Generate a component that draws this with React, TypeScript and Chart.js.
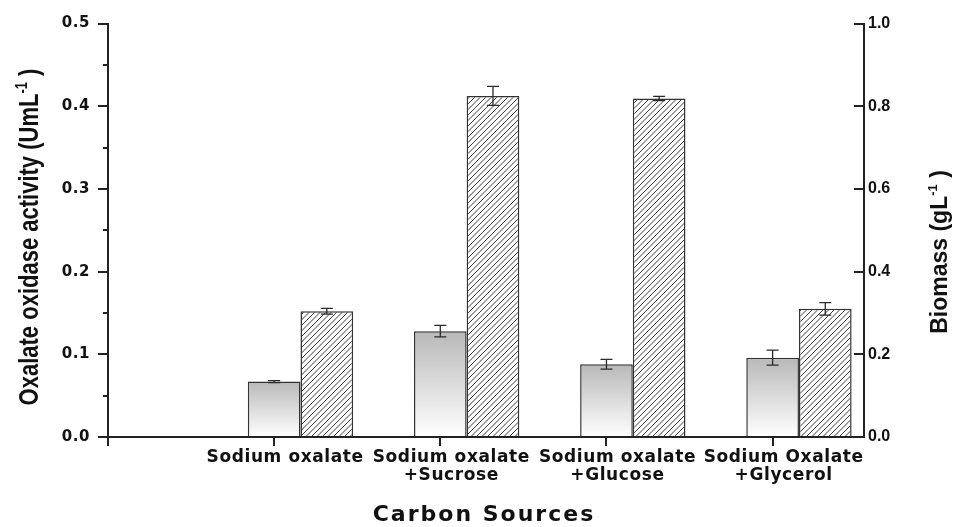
import React, { useEffect, useRef } from 'react';
import { Chart, registerables } from 'chart.js';

Chart.register(...registerables);

// ---- data ----
const categoryLabels: string[][] = [
  ['Sodium oxalate'],
  ['Sodium oxalate', '+Sucrose'],
  ['Sodium oxalate', '+Glucose'],
  ['Sodium Oxalate', '+Glycerol'],
];
const oxidaseActivity = [0.067, 0.128, 0.088, 0.096];
const oxidaseError = [0.0012, 0.007, 0.006, 0.009];
const biomass = [0.304, 0.825, 0.819, 0.31];
const biomassError = [0.007, 0.023, 0.005, 0.015];

const leftAxis = { min: 0, max: 0.5, step: 0.1 };
const rightAxis = { min: 0, max: 1.0, step: 0.2 };
const leftMinorTicks = [0.05, 0.15, 0.25, 0.35, 0.45];
const xAxisMax = 4.55;

const xTitle = 'Carbon Sources';
const leftTitle = [{ t: 'Oxalate oxidase activity (UmL' }, { t: '-1', sup: true }, { t: ' )' }];
const rightTitle = [{ t: 'Biomass (gL' }, { t: '-1', sup: true }, { t: ' )' }];

const INK = '#111111';

function makeHatch(): CanvasPattern | string {
  const c = document.createElement('canvas');
  const n = 11;
  c.width = n;
  c.height = n;
  const g = c.getContext('2d');
  if (!g) return '#ddd';
  g.fillStyle = '#ffffff';
  g.fillRect(0, 0, n, n);
  g.strokeStyle = '#3a3a3a';
  g.lineWidth = 1;
  g.beginPath();
  for (const k of [0, 5.5, 11, 16.5, 22]) {
    g.moveTo(-2, k + 2);
    g.lineTo(k + 2, -2);
  }
  g.stroke();
  return g.createPattern(c, 'repeat') || '#ddd';
}

function gradientFill(ctx: any) {
  const chart = ctx.chart;
  if (!chart.chartArea || ctx.type !== 'data' || !ctx.parsed) return '#d0d0d0';
  const ys = chart.scales.y;
  const top = ys.getPixelForValue(ctx.parsed.y);
  const bottom = ys.getPixelForValue(0);
  if (!isFinite(top) || !isFinite(bottom) || top === bottom) return '#d0d0d0';
  const g = chart.ctx.createLinearGradient(0, top, 0, bottom);
  g.addColorStop(0, '#b8b8b8');
  g.addColorStop(0.5, '#dcdcdc');
  g.addColorStop(1, '#ffffff');
  return g;
}

const spacingPlugin = {
  id: 'labelSpacing',
  beforeDraw(chart: any) {
    (chart.ctx as any).letterSpacing = '0.6px';
  },
  beforeDatasetsDraw(chart: any) {
    (chart.ctx as any).letterSpacing = '0px';
  },
};

const errorBarPlugin = {
  id: 'errorBars',
  afterDatasetsDraw(chart: any) {
    const ctx = chart.ctx;
    chart.data.datasets.forEach((ds: any, di: number) => {
      if (!ds.errors) return;
      const meta = chart.getDatasetMeta(di);
      const ys = chart.scales[ds.yAxisID];
      meta.data.forEach((bar: any, i: number) => {
        const v = ds.data[i].y;
        const e = ds.errors[i];
        const x = bar.x;
        const yt = ys.getPixelForValue(v + e);
        const yb = ys.getPixelForValue(v - e);
        ctx.save();
        ctx.strokeStyle = '#2a2a2a';
        ctx.lineWidth = 1.3;
        ctx.beginPath();
        ctx.moveTo(x, yt);
        ctx.lineTo(x, yb);
        ctx.moveTo(x - 6, yt);
        ctx.lineTo(x + 6, yt);
        ctx.moveTo(x - 6, yb);
        ctx.lineTo(x + 6, yb);
        ctx.stroke();
        ctx.restore();
      });
    });
  },
};

function drawRich(
  ctx: CanvasRenderingContext2D,
  parts: { t: string; sup?: boolean }[],
  cx: number,
  cy: number,
  size: number,
  family: string,
  rotate: boolean,
  scaleY: number
) {
  ctx.save();
  (ctx as any).letterSpacing = '0px';
  ctx.fillStyle = INK;
  ctx.textBaseline = 'alphabetic';
  ctx.textAlign = 'left';
  const supSize = Math.round(size * 0.58);
  const mainFont = `bold ${size}px ${family}`;
  const supFont = `bold ${supSize}px ${family}`;
  let total = 0;
  const widths = parts.map((p) => {
    ctx.font = p.sup ? supFont : mainFont;
    const w = ctx.measureText(p.t).width;
    total += w;
    return w;
  });
  ctx.translate(cx, cy);
  if (rotate) ctx.rotate(-Math.PI / 2);
  ctx.scale(1, scaleY);
  const base = size * 0.716 / 2;
  let x = -total / 2;
  parts.forEach((p, i) => {
    ctx.font = p.sup ? supFont : mainFont;
    ctx.fillText(p.t, x, p.sup ? base - size * 0.42 : base);
    x += widths[i];
  });
  ctx.restore();
}

const decorPlugin = {
  id: 'decor',
  afterDraw(chart: any) {
    const ctx: CanvasRenderingContext2D = chart.ctx;
    const ys = chart.scales.y;
    const left = chart.chartArea.left;
    ctx.save();
    ctx.strokeStyle = '#222';
    ctx.lineWidth = 2;
    ctx.beginPath();
    leftMinorTicks.forEach((v) => {
      const y = Math.round(ys.getPixelForValue(v));
      ctx.moveTo(left - 5, y);
      ctx.lineTo(left, y);
    });
    ctx.stroke();
    ctx.restore();

    drawRich(ctx, leftTitle, 28.5, 237, 22, '"Liberation Sans", Arial, sans-serif', true, 1.25);
    drawRich(ctx, rightTitle, 938, 252, 23, '"Liberation Sans", Arial, sans-serif', true, 1.05);

    ctx.save();
    (ctx as any).letterSpacing = '2px';
    ctx.font = 'bold 22px "DejaVu Sans", sans-serif';
    ctx.fillStyle = INK;
    ctx.textAlign = 'center';
    ctx.textBaseline = 'alphabetic';
    ctx.fillText(xTitle, 484, 521);
    ctx.restore();
  },
};

export default function App() {
  const ref = useRef<HTMLCanvasElement>(null);
  useEffect(() => {
    const canvas = ref.current;
    if (!canvas) return;
    const hatch = makeHatch();
    const chart = new Chart(canvas, {
      type: 'bar',
      data: {
        datasets: [
          {
            label: 'spacer',
            data: categoryLabels.map((_, i) => ({ x: i + 1, y: null })),
            yAxisID: 'y',
            backgroundColor: 'transparent',
            borderWidth: 0,
          },
          {
            label: 'Oxalate oxidase activity',
            data: oxidaseActivity.map((y, i) => ({ x: i + 1, y })),
            errors: oxidaseError,
            yAxisID: 'y',
            backgroundColor: gradientFill,
            borderColor: '#333',
            borderWidth: 1.5,
          },
          {
            label: 'Biomass',
            data: biomass.map((y, i) => ({ x: i + 1, y })),
            errors: biomassError,
            yAxisID: 'y2',
            backgroundColor: hatch,
            borderColor: '#333',
            borderWidth: 1.5,
          },
        ] as any,
      },
      options: {
        responsive: false,
        animation: false,
        layout: { padding: { top: 17, left: 0, right: 0, bottom: 0 } },
        datasets: { bar: { categoryPercentage: 0.951, barPercentage: 1, grouped: true } } as any,
        plugins: { legend: { display: false }, tooltip: { enabled: false }, title: { display: false } },
        scales: {
          x: {
            type: 'linear',
            min: 0,
            max: xAxisMax,
            offset: false,
            grid: { offset: false, drawOnChartArea: false, color: '#222', lineWidth: 2, tickLength: 9 },
            border: { color: '#222', width: 2, z: 1 },
            ticks: {
              stepSize: 1,
              includeBounds: false,
              autoSkip: false,
              maxRotation: 0,
              minRotation: 0,
              labelOffset: 11,
              padding: 2,
              color: INK,
              font: { family: '"DejaVu Sans", sans-serif', weight: 'bold', size: 17, lineHeight: 1.1 },
              callback: (v: any) => {
                const idx = Math.round(Number(v)) - 1;
                return idx >= 0 && idx < categoryLabels.length ? categoryLabels[idx] : '';
              },
            },
            afterFit: (s: any) => {
              s.height = 90;
            },
          } as any,
          y: {
            type: 'linear',
            position: 'left',
            min: leftAxis.min,
            max: leftAxis.max,
            grid: { drawOnChartArea: false, color: '#222', lineWidth: 2, tickLength: 10 },
            border: { color: '#222', width: 2 },
            ticks: {
              stepSize: leftAxis.step,
              padding: 8,
              color: INK,
              font: { family: '"DejaVu Sans", sans-serif', weight: 'bold', size: 15 },
              callback: (v: any) => Number(v).toFixed(1),
            },
            afterFit: (s: any) => {
              s.width = 108;
            },
          } as any,
          y2: {
            type: 'linear',
            position: 'right',
            min: rightAxis.min,
            max: rightAxis.max,
            grid: { drawOnChartArea: false, color: '#222', lineWidth: 2, tickLength: -10 },
            border: { color: '#222', width: 2 },
            ticks: {
              stepSize: rightAxis.step,
              padding: 14,
              z: 1,
              color: INK,
              font: { family: '"Liberation Sans", Arial, sans-serif', weight: 'bold', size: 16 },
              callback: (v: any) => Number(v).toFixed(1),
            },
            afterFit: (s: any) => {
              s.width = 93;
            },
          } as any,
        },
      },
      plugins: [spacingPlugin, errorBarPlugin, decorPlugin],
    });
    return () => chart.destroy();
  }, []);
  return (
    <canvas
      ref={ref}
      width={957}
      height={527}
      style={{ position: 'fixed', left: 0, top: 0, display: 'block' }}
    />
  );
}
